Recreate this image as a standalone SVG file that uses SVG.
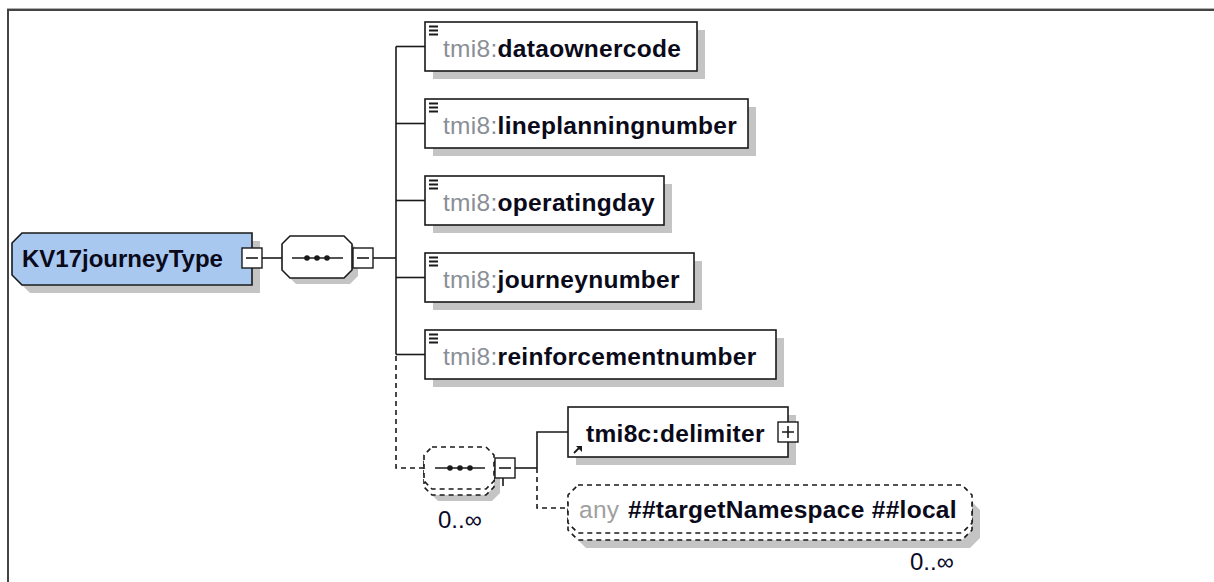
<svg xmlns="http://www.w3.org/2000/svg" width="1214" height="582" viewBox="0 0 1214 582">
<style>
.sh{fill:#c4c4c4}
.bx{fill:#fff;stroke:#1a1a1a;stroke-width:1.6}
.dbx{fill:#fff;stroke:#1a1a1a;stroke-width:1.6;stroke-dasharray:5 4}
.ln{fill:none;stroke:#1a1a1a;stroke-width:1.6}
.dl{fill:none;stroke:#1a1a1a;stroke-width:1.6;stroke-dasharray:5 4}
.t{font-family:"Liberation Sans",Arial,sans-serif;font-size:24.5px;letter-spacing:0.3px}
.ns{fill:#8a8e96}
.nm{fill:#0a0a1a;font-weight:bold}
.any{fill:#a0a0a0}
.occ{font-family:"Liberation Sans",Arial,sans-serif;font-size:24px;fill:#0a0a2a}
.btn{fill:#fff;stroke:#1a1a1a;stroke-width:1.4}
.ic{fill:none;stroke:#1a1a1a;stroke-width:1.8}
.dot{fill:#1a1a1a}
</style>
<g id="frame">
<line x1="7" y1="8.5" x2="1214" y2="8.5" stroke="#b0b0b0" stroke-width="1"/>
<line x1="7" y1="10" x2="1214" y2="10" stroke="#444" stroke-width="2"/>
<line x1="8" y1="9" x2="8" y2="582" stroke="#444" stroke-width="2"/>
</g>
<g id="connectors">
<line class="ln" x1="262" y1="258" x2="282" y2="258"/>
<line class="ln" x1="373" y1="258" x2="396" y2="258"/>
<line class="ln" x1="396" y1="46.5" x2="396" y2="354.5"/>
<line class="ln" x1="396" y1="46.5" x2="425" y2="46.5"/>
<line class="ln" x1="396" y1="123.5" x2="425" y2="123.5"/>
<line class="ln" x1="396" y1="200.5" x2="425" y2="200.5"/>
<line class="ln" x1="396" y1="277.5" x2="425" y2="277.5"/>
<line class="ln" x1="396" y1="354.5" x2="425" y2="354.5"/>
<path class="dl" d="M396,356 V468 H424"/>
<line class="ln" x1="515" y1="468" x2="537" y2="468"/>
<path class="ln" d="M537,468 V432 H568"/>
<path class="dl" d="M537,468 V508 H568"/>
</g>
<g id="KV17journeyType">
<polygon class="sh" points="30,241 260,241 260,293 30,293 20,283 20,251"/>
<polygon points="22,233 252,233 252,285 22,285 12,275 12,243" fill="#a8c8f0" stroke="#1a1a1a" stroke-width="1.6"/>
<text x="22" y="267" font-family="'Liberation Sans',Arial,sans-serif" font-size="24" font-weight="bold" fill="#0a0a1a">KV17journeyType</text>
<rect class="btn" x="242" y="248" width="20" height="20"/>
<line class="ln" x1="246" y1="258" x2="258" y2="258"/>
</g>
<g id="sequence1">
<polygon class="sh" points="296,242 350,242 358,250 358,276 350,284 296,284 288,276 288,250"/>
<polygon class="bx" points="290,236 344,236 352,244 352,270 344,278 290,278 282,270 282,244"/>
<line class="ln" x1="292" y1="258" x2="343" y2="258"/>
<circle class="dot" cx="307" cy="258" r="2.8"/>
<circle class="dot" cx="317" cy="258" r="2.8"/>
<circle class="dot" cx="327" cy="258" r="2.8"/>
<rect class="btn" x="353" y="248" width="20" height="20"/>
<line class="ln" x1="357" y1="258" x2="369" y2="258"/>
</g>
<g id="dataownercode">
<rect class="sh" x="433" y="30" width="272" height="49"/>
<rect class="bx" x="425" y="22" width="272" height="49"/>
<path class="ic" d="M429,26.5 h9 M429,30.5 h9 M429,34.5 h9"/>
<text class="t" x="443" y="57"><tspan class="ns">tmi8:</tspan><tspan class="nm">dataownercode</tspan></text>
</g>
<g id="lineplanningnumber">
<rect class="sh" x="433" y="107" width="323" height="49"/>
<rect class="bx" x="425" y="99" width="323" height="49"/>
<path class="ic" d="M429,103.5 h9 M429,107.5 h9 M429,111.5 h9"/>
<text class="t" x="443" y="134"><tspan class="ns">tmi8:</tspan><tspan class="nm">lineplanningnumber</tspan></text>
</g>
<g id="operatingday">
<rect class="sh" x="433" y="184" width="239" height="49"/>
<rect class="bx" x="425" y="176" width="239" height="49"/>
<path class="ic" d="M429,180.5 h9 M429,184.5 h9 M429,188.5 h9"/>
<text class="t" x="443" y="211"><tspan class="ns">tmi8:</tspan><tspan class="nm">operatingday</tspan></text>
</g>
<g id="journeynumber">
<rect class="sh" x="433" y="261" width="269" height="49"/>
<rect class="bx" x="425" y="253" width="269" height="49"/>
<path class="ic" d="M429,257.5 h9 M429,261.5 h9 M429,265.5 h9"/>
<text class="t" x="443" y="288"><tspan class="ns">tmi8:</tspan><tspan class="nm">journeynumber</tspan></text>
</g>
<g id="reinforcementnumber">
<rect class="sh" x="433" y="338" width="351" height="49"/>
<rect class="bx" x="425" y="330" width="351" height="49"/>
<path class="ic" d="M429,334.5 h9 M429,338.5 h9 M429,342.5 h9"/>
<text class="t" x="443" y="365"><tspan class="ns">tmi8:</tspan><tspan class="nm">reinforcementnumber</tspan></text>
</g>
<g id="sequence2">
<polygon class="sh" points="438,459 492,459 500,467 500,493 492,501 438,501 430,493 430,467"/>
<polygon class="dbx" points="432,453 486,453 494,461 494,487 486,495 432,495 424,487 424,461"/>
<polygon class="dbx" points="432,447 486,447 494,455 494,481 486,489 432,489 424,481 424,455"/>
<line class="ln" x1="435" y1="468" x2="485" y2="468"/>
<circle class="dot" cx="450" cy="468" r="2.8"/>
<circle class="dot" cx="460" cy="468" r="2.8"/>
<circle class="dot" cx="470" cy="468" r="2.8"/>
<rect class="btn" x="495" y="458" width="20" height="20"/>
<line class="ln" x1="499" y1="468" x2="511" y2="468"/>
<line class="ln" x1="503" y1="478" x2="503" y2="486"/>
<text class="occ" x="438" y="528">0..∞</text>
</g>
<g id="delimiter">
<rect class="sh" x="576" y="415" width="220" height="50"/>
<rect class="bx" x="568" y="407" width="220" height="50"/>
<line x1="574" y1="453" x2="579" y2="448" stroke="#1a1a1a" stroke-width="1.8"/>
<polygon points="576,446 582,446 582,452" fill="#1a1a1a"/>
<text class="t nm" x="586" y="442">tmi8c:delimiter</text>
<rect class="btn" x="778" y="422" width="20" height="20"/>
<path class="ln" d="M782,432 h12 M788,426 v12"/>
</g>
<g id="any">
<polygon class="sh" points="586,500 970,500 980,510 980,538 970,548 586,548 576,538 576,510"/>
<polygon class="dbx" points="578,492 962,492 972,502 972,530 962,540 578,540 568,530 568,502"/>
<polygon class="dbx" points="578,485 962,485 972,495 972,523 962,533 578,533 568,523 568,495"/>
<text class="t any" x="579" y="518">any</text>
<text class="t nm" x="628" y="518">##targetNamespace ##local</text>
<text class="occ" x="910" y="570">0..∞</text>
</g>
</svg>
